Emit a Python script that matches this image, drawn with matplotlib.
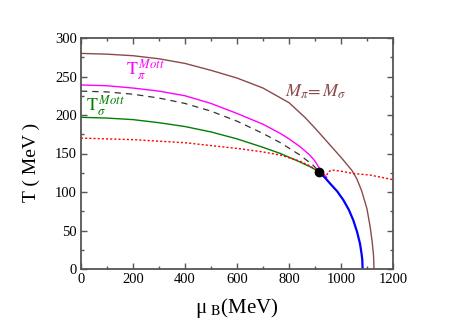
import numpy as np
import matplotlib
matplotlib.use("Agg")
import matplotlib.pyplot as plt
from matplotlib.ticker import MultipleLocator

plt.rcParams["font.family"] = ["Liberation Serif", "DejaVu Serif"]
plt.rcParams["mathtext.fontset"] = "stix"

# M_pi = M_sigma line (brown)
mu_eq = [0, 100, 200, 300, 400, 500, 600, 700, 800, 861, 900, 950, 1000, 1042,
         1061, 1080, 1100, 1112, 1120, 1125, 1127]
T_eq = [280, 279, 277, 273, 267, 258, 248, 235, 216, 197, 183, 164, 145, 128,
        117, 101, 78, 55, 35, 18, 0]

# T_pi^Mott (magenta)
mu_pi = [0, 100, 200, 300, 400, 500, 600, 700, 767, 800, 842, 880, 900, 915, 930, 945]
T_pi = [239, 238, 235, 231, 225, 215, 202, 188, 176, 169, 159, 148, 140, 132, 125, 119]

# dashed black
mu_dash = [0, 100, 200, 300, 400, 500, 600, 700, 767, 842, 892, 917]
T_dash = [231, 230, 227, 222, 215, 205, 192, 176, 164, 148, 135, 126]

# T_sigma^Mott (green)
mu_sig = [0, 100, 200, 300, 400, 500, 600, 700, 767, 842, 880, 917]
T_sig = [197, 196, 194, 190, 185, 178, 169, 158, 150, 139, 133, 126]

# red dotted, crossover part
mu_red1 = [0, 200, 400, 535, 615, 700, 767, 842, 880, 917]
T_red1 = [170, 168, 164, 159, 156, 152, 148, 140, 134, 126]
# red dotted, beyond critical point
mu_red2 = [917, 935, 945, 951, 964, 1000, 1047, 1112, 1200]
T_red2 = [125, 121, 122, 126, 128.6, 127, 124, 122, 116]

# first-order line (blue)
mu_fo = [917, 940, 958, 985, 1009, 1030, 1047, 1062, 1073, 1079, 1082, 1083]
T_fo = [125.6, 118, 111, 101, 89.6, 77, 63.6, 48, 33, 20, 11.7, 0]

# critical end point
mu_cep = 917
T_cep = 125.6

SERIF = ["Liberation Serif", "DejaVu Serif"]

fig = plt.figure(figsize=(4.57, 3.23), dpi=100)
ax = fig.add_axes([81 / 457, 1 - 269 / 323, 312 / 457, 231 / 323])

ax.plot(mu_eq, T_eq, color="#8b4a4a", lw=1.0)
ax.plot(mu_pi, T_pi, color="#ff00ff", lw=1.0)
ax.plot(mu_dash, T_dash, color="#333333", lw=0.9, ls=(0, (5, 4)))
ax.plot(mu_sig, T_sig, color="#008000", lw=1.0)
ax.plot(mu_red1, T_red1, color="#ff0000", lw=1.0, ls=(0, (1.5, 1.5)))
ax.plot(mu_red2, T_red2, color="#ff0000", lw=1.0, ls=(0, (1.5, 1.5)))
ax.plot(mu_fo, T_fo, color="#0000ff", lw=1.6)
ax.plot(mu_cep, T_cep, "o", color="black", ms=6)

ax.text(175, 252, r"$\mathrm{T}_{\pi}^{\,Mott}$", color="#ff00ff", fontsize=13)
ax.text(20, 206, r"$\mathrm{T}_{\sigma}^{\,Mott}$", color="#008000", fontsize=13)
ax.text(785, 224, r"$M_{\pi}\!= M_{\sigma}$", color="#8b4a4a", fontsize=13)

ax.set_xlim(0, 1200)
ax.set_ylim(0, 300)
ax.xaxis.set_major_locator(MultipleLocator(200))
ax.xaxis.set_minor_locator(MultipleLocator(100))
ax.yaxis.set_major_locator(MultipleLocator(50))
ax.yaxis.set_minor_locator(MultipleLocator(25))
ax.tick_params(which="both", direction="in", top=True, right=True, color="#555555", labelsize=10.5, pad=3)
ax.tick_params(which="major", length=4, width=1)
ax.tick_params(which="minor", length=2.5, width=1)
for lab in ax.get_xticklabels() + ax.get_yticklabels():
    lab.set_family(SERIF)
for s in ax.spines.values():
    s.set_color("#555555")
    s.set_linewidth(1.3)

ax.set_xlabel("μ$_{\\ \\mathrm{B}}$(MeV)", fontsize=15, labelpad=7, family=SERIF)
ax.set_ylabel("T ( MeV )", fontsize=14, family=SERIF)
ax.yaxis.set_label_coords(-0.13, 0.46)

fig.savefig("out.png", dpi=100)
